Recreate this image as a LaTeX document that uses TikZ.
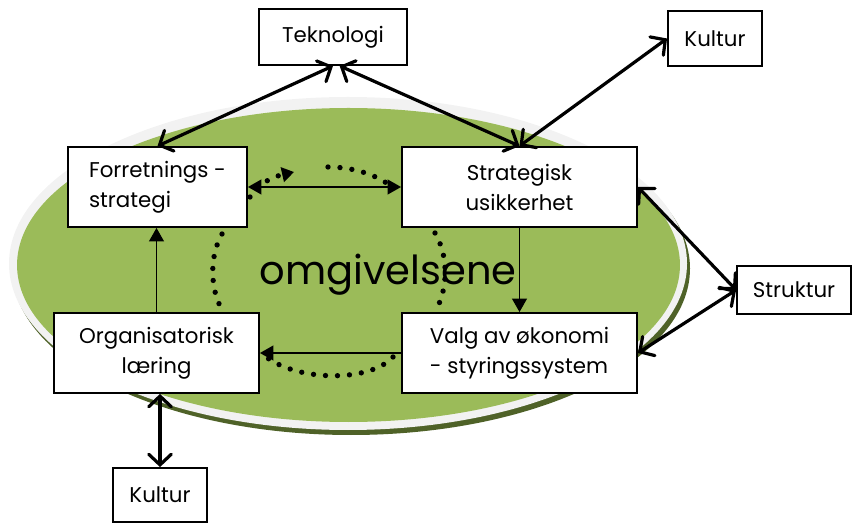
\documentclass[tikz,border=0pt]{standalone}
\usepackage{fontspec}
\setmainfont{Poppins}
\usetikzlibrary{arrows.meta}

\definecolor{gronn}{HTML}{9BBB59}
\definecolor{morkgronn}{HTML}{4F6228}
\definecolor{kant}{HTML}{F2F2F2}

\tikzset{
  boks/.style={draw,line width=1.4pt,fill=white,inner sep=0pt,
    font=\fontsize{16}{22.5}\selectfont},
  tykkpil/.style={line width=2.4pt,line cap=round,
    {Straight Barb[length=8pt,width=17pt,line cap=round]}-{Straight Barb[length=8pt,width=17pt,line cap=round]}},
  tynnpil/.style={line width=1.3pt,-{Triangle[length=10pt,width=11pt]}},
  prikk/.style={line width=4pt,line cap=round,dash pattern=on 0pt off 9pt}
}

\begin{document}
\begin{tikzpicture}[x=0.75pt,y=-0.75pt]
  \useasboundingbox (0,0) rectangle (852,523);
  % omgivelsene
  \fill[morkgronn] (351,268.5) ellipse [x radius=254.25pt,y radius=124.875pt];
  \fill[kant] (348,263.5) ellipse [x radius=254.25pt,y radius=124.875pt];
  \fill[gronn] (348.5,265) ellipse [x radius=248.6pt,y radius=117.75pt];
  \node[anchor=base,font=\fontsize{30}{30}\selectfont] (omg) at (388,285) {omgivelsene};

  % boksene
  \node[boks,minimum width=111pt,minimum height=42pt] (tek) at (333,37) {Teknologi};
  \node[boks,minimum width=70.5pt,minimum height=41.25pt] (kultur1) at (715,38.5) {Kultur};
  \node[boks,minimum width=134.25pt,minimum height=60pt,align=left] (forr) at (157.5,187) {Forretnings -\\strategi};
  \node[boks,minimum width=176.25pt,minimum height=60pt,align=center] (strat) at (519.5,187) {Strategisk\\usikkerhet};
  \node[boks,minimum width=153.75pt,minimum height=60pt,align=center] (org) at (156.5,353) {Organisatorisk\\l{\ae}ring};
  \node[boks,minimum width=176.25pt,minimum height=60pt,align=left] (valg) at (519.5,353) {Valg av {\o}konomi\\- styringssystem};
  \node[boks,minimum width=85.5pt,minimum height=36pt] (struktur) at (794,290) {Struktur};
  \node[boks,minimum width=70.5pt,minimum height=40.5pt] (kultur2) at (160,495) {Kultur};

  % tykke piler
  \draw[tykkpil] (tek.south) -- (forr.north);
  \draw[tykkpil] ([xshift=5pt]tek.south) -- (strat.north);
  \draw[tykkpil] (strat.north) -- (kultur1.west);
  \draw[tykkpil] (strat.east) -- (struktur.west);
  \draw[tykkpil] (valg.east) -- (struktur.west);
  \draw[tykkpil] (kultur2.north |- org.south) -- (kultur2.north);

  % tynne piler
  \draw[tynnpil] (org.north) -- (org.north |- forr.south);
  \draw[tynnpil] (strat.south) -- (valg.north);
  \draw[tynnpil,{Triangle[length=10pt,width=11pt]}-{Triangle[length=10pt,width=11pt]}] (forr.east) -- (strat.west);
  \draw[tynnpil] (valg.west) -- (org.east);

  % prikket sirkel
  \draw[prikk,-{Triangle[length=9pt,width=11pt]}] (250,197) .. controls (258,184) and (272,177) .. (294,172);
  \draw[prikk] (328,167) .. controls (350,167) and (372,173) .. (388,184);
  \draw[prikk] (222,234) .. controls (210,255) and (210,285) .. (220,306);
  \draw[prikk] (435,233) .. controls (448,255) and (448,285) .. (438,306);
  \draw[prikk] (393,357) .. controls (370,382) and (300,382) .. (266,357);
\end{tikzpicture}
\end{document}
